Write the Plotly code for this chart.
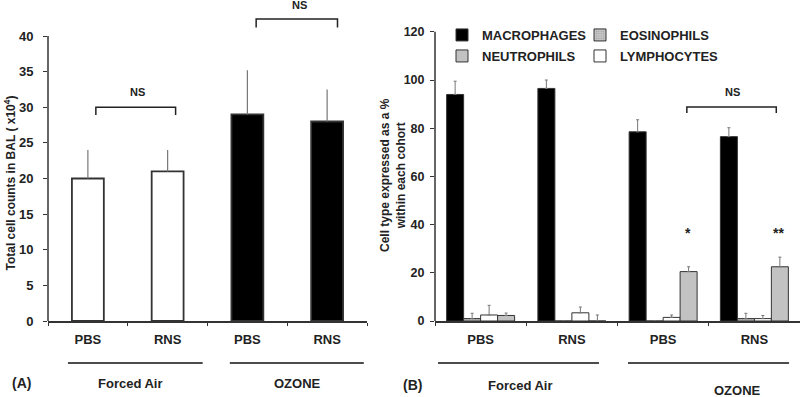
import plotly.graph_objects as go

# ---------------- data ----------------
a_labels = ["PBS", "RNS", "PBS", "RNS"]
a_values = [20, 21, 29, 28]
a_errors = [4, 3, 6.2, 4.5]
a_colors = ["white", "white", "black", "black"]

b_labels = ["PBS", "RNS", "PBS", "RNS"]
macrophages = [94, 96.5, 78.5, 76.5]
macrophages_err = [5.5, 3.5, 5, 3.7]
eosinophils = [1, 0, 0, 1]
eosinophils_err = [2.2, 0, 0, 2.2]
lymphocytes = [2.5, 3.4, 1.5, 1]
lymphocytes_err = [4, 2.4, 1, 1.3]
neutrophils = [2.3, 0, 20.5, 22.5]
neutrophils_err = [1, 2.5, 2, 4]

groups = ["Forced Air", "OZONE"]

FONT = "Liberation Sans, Arial, sans-serif"
DARK = "#222222"
ERR = "#777777"

xs = [0, 1, 2, 3]

fig = go.Figure()

# Panel A
fig.add_trace(go.Bar(
    x=xs, y=a_values, width=0.4,
    marker=dict(color=a_colors, line=dict(color="#333333", width=1.8)),
    error_y=dict(type="data", array=a_errors, arrayminus=[0]*4, symmetric=False,
                 color=ERR, thickness=1.2, width=0),
    showlegend=False, xaxis="x", yaxis="y",
))

# Panel B
def bbar(name, vals, errs, color, legend, rank, pattern=None):
    marker = dict(color=color, line=dict(color="#333333", width=1))
    if pattern:
        marker["pattern"] = pattern
    return go.Bar(
        x=xs, y=vals, name=name, marker=marker,
        error_y=dict(type="data", array=errs, arrayminus=[0]*4, symmetric=False,
                     color=ERR, thickness=1, width=1.5),
        xaxis="x2", yaxis="y2", legend=legend, legendrank=rank,
    )

fig.add_trace(bbar("MACROPHAGES", macrophages, macrophages_err, "black", "legend", 1))
fig.add_trace(bbar("EOSINOPHILS", eosinophils, eosinophils_err, "#bdbdbd", "legend", 2,
                   pattern=dict(shape=".", fgcolor="#808080", bgcolor="#c8c8c8", size=3, solidity=0.3)))
fig.add_trace(bbar("LYMPHOCYTES", lymphocytes, lymphocytes_err, "white", "legend2", 2))
fig.add_trace(bbar("NEUTROPHILS", neutrophils, neutrophils_err, "#c2c2c2", "legend2", 1))

PX_B = 321.0
def py(p):  # pixel y -> paper y
    return (PX_B - p) / PX_B

tickfont = dict(family=FONT, size=13, color=DARK, weight="bold")

xa_common = dict(
    tickmode="array", tickvals=xs, ticks="", showline=True, linecolor="#333333", linewidth=1.5,
    range=[-0.5, 3.5], showgrid=False, zeroline=False, tickfont=tickfont, ticklabelstandoff=6,
    minor=dict(tickmode="linear", tick0=0.5, dtick=1, ticks="outside", ticklen=3,
               tickcolor="#333333", showgrid=False),
)

legend_font = dict(family=FONT, size=13, color=DARK, weight="bold")

fig.update_layout(
    width=800, height=397,
    margin=dict(l=0, r=0, t=0, b=76),
    paper_bgcolor="white", plot_bgcolor="white",
    barmode="group", bargap=0.255, bargroupgap=0,
    font=dict(family=FONT, color=DARK),
    xaxis=dict(domain=[48/800, 367/800], ticktext=a_labels, anchor="y", **xa_common),
    yaxis=dict(domain=[0, 1], range=[0, PX_B/7.125], tickmode="array",
               tickvals=[0, 5, 10, 15, 20, 25, 30, 35, 40], ticks="outside", ticklen=4,
               tickcolor="#333333", showline=False, showgrid=False, zeroline=False,
               tickfont=tickfont, ticklabelstandoff=7, anchor="x"),
    xaxis2=dict(domain=[435/800, 1.0], ticktext=b_labels, anchor="y2", **xa_common),
    yaxis2=dict(domain=[0, 1], range=[0, PX_B/2.41], tickmode="array",
                tickvals=[0, 20, 40, 60, 80, 100, 120], ticks="outside", ticklen=4,
                tickcolor="#333333", showline=False, showgrid=False, zeroline=False,
                tickfont=dict(family=FONT, size=12.5, color=DARK, weight="bold"),
                ticklabelstandoff=3, anchor="x2"),
    legend=dict(orientation="h", x=442/800, xanchor="left", y=py(35), yanchor="middle",
                entrywidth=93, font=legend_font,
                bgcolor="rgba(0,0,0,0)", traceorder="normal", itemclick=False),
    legend2=dict(orientation="h", x=442/800, xanchor="left", y=py(56), yanchor="middle",
                 entrywidth=93, font=legend_font,
                 bgcolor="rgba(0,0,0,0)", traceorder="normal", itemclick=False),
)

shapes = []
line_style = dict(color="#111111", width=1.5)
# y-axis lines
shapes.append(dict(type="line", xref="x domain", yref="y", x0=0, x1=0, y0=0, y1=40, line=dict(color="#333333", width=1.5)))
shapes.append(dict(type="line", xref="x2 domain", yref="y2", x0=0, x1=0, y0=0, y1=120, line=dict(color="#333333", width=1.5)))

# brackets (x0, x1, ytop, yleg, axis suffix)
brackets = [
    (0.1, 1.1, 30.0, 28.9, ""),
    (2.11, 3.13, 42.4, 41.2, ""),
    (2.26, 3.24, 88.8, 86.3, "2"),
]
for x0, x1, yt, yl, s in brackets:
    shapes.append(dict(type="path", xref="x" + s, yref="y" + s,
                       path=f"M{x0},{yl} L{x0},{yt} L{x1},{yt} L{x1},{yl}",
                       line=dict(color="#222222", width=1.5)))

# group underlines
for x0, x1, s in [(-0.25, 1.44, ""), (1.78, 3.46, ""), (-0.467, 1.297, "2"), (1.615, 3.38, "2")]:
    shapes.append(dict(type="line", xref="x" + s, yref="paper", x0=x0, x1=x1,
                       y0=py(363), y1=py(363), line=line_style))
fig.update_layout(shapes=shapes)

ann = []
bold = lambda size: dict(family=FONT, size=size, color=DARK, weight="bold")
def A(text, xref, yref, x, y, size, **kw):
    d = dict(text=text, xref=xref, yref=yref, x=x, y=y, showarrow=False, font=bold(size),
             xanchor="center", yanchor="middle")
    d.update(kw)
    ann.append(d)

A("NS", "x", "y", 0.62, 32.1, 11)
A("NS", "x", "y", 2.65, 44.35, 11)
A("NS", "x2", "y2", 2.76, 95, 11)
A("*", "x2", "y2", 2.27, 36.5, 14)
A("**", "x2", "y2", 3.26, 36.5, 14)

A(groups[0], "x", "paper", 0.53, py(383), 13)
A(groups[1], "x", "paper", 2.63, py(383), 13)
A(groups[0], "x2", "paper", 0.442, py(385), 13)
A(groups[1], "x2", "paper", 2.82, py(390), 13)

A("(A)", "paper", "paper", 21/800, py(383), 14)
A("(B)", "paper", "paper", 412/800, py(385), 14)

A("Total cell counts in BAL ( x10<sup>4</sup>)", "paper", "paper", 9/800, py(183.5), 12, textangle=-90)
A("Cell type expressed as a %<br>within each cohort", "paper", "paper", 393/800, py(175), 12, textangle=-90)
fig.update_layout(annotations=ann)

# remove the default page margin so the figure sits at the window's top-left corner
fig.write_html("out.html", config={"displayModeBar": False},
               post_script="document.body.style.margin='0';document.body.style.overflow='hidden';")
